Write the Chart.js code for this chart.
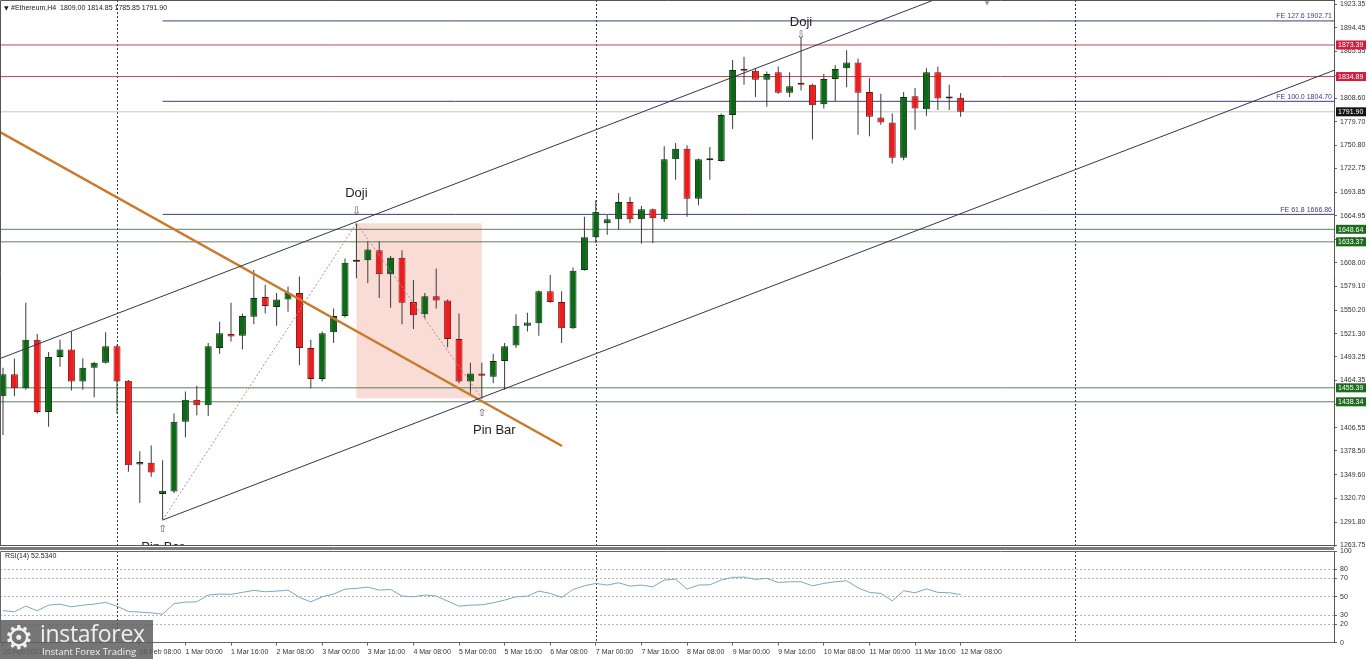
<!DOCTYPE html>
<html lang="en">
<head>
<meta charset="utf-8">
<title>#Ethereum,H4</title>
<script src="https://cdn.jsdelivr.net/npm/chart.js@4.4.1/dist/chart.umd.min.js"></script>
<style>
  html, body { margin: 0; padding: 0; background: #fff; overflow: hidden; }
  #wrap { position: relative; width: 1367px; height: 659px; }
  canvas { position: absolute; left: 0; }
  #priceChart { top: 0; }
  #rsiChart { top: 547px; }
  #logo { position: absolute; left: 0; top: 620px; width: 153px; height: 39px;
          background: rgba(96, 96, 96, 0.86); color: #f0f0f0; font-family: "Open Sans", sans-serif; }
  #logo .gear { position: absolute; left: 4px; top: 0; font: 33px "DejaVu Sans"; line-height: 36px; }
  #logo .brand { position: absolute; left: 40px; top: -1px; font-size: 23px; line-height: 28px; letter-spacing: -0.3px; }
  #logo .slogan { position: absolute; left: 42px; top: 26px; font-size: 9.5px; line-height: 12px; }
</style>
</head>
<body>
<div id="wrap">
  <canvas id="priceChart" width="1367" height="547"></canvas>
  <canvas id="rsiChart" width="1367" height="112"></canvas>
  <div id="logo"><span class="gear">⚙</span><span class="brand">instaforex</span><span class="slogan">Instant Forex Trading</span></div>
</div>
<script>
/* ================= DATA ================= */

// H4 candles, 26 Feb 08:00 .. 12 Mar 08:00
const opens  = [1445, 1472, 1455, 1514, 1426, 1493, 1502, 1463, 1480, 1486,
                1506, 1464, 1362, 1364, 1326, 1329, 1414, 1441, 1434, 1504,
                1521, 1519, 1542, 1566, 1554, 1563, 1571, 1504, 1466, 1523,
                1543, 1609, 1611, 1623, 1594, 1614, 1560, 1545, 1567, 1562,
                1515, 1463, 1473, 1469, 1488, 1507, 1531, 1534, 1573, 1560,
                1528, 1599, 1639, 1656, 1661, 1682, 1661, 1673, 1661, 1734,
                1747, 1686, 1733, 1732, 1788, 1843, 1842, 1831, 1840, 1815,
                1826, 1825, 1801, 1832, 1845, 1852, 1816, 1785, 1779, 1736,
                1811, 1795, 1840, 1808, 1809.00];
const highs  = [1480, 1491, 1559, 1521, 1499, 1514, 1524, 1491, 1487, 1523,
                1508, 1465, 1378, 1385, 1367, 1424, 1451, 1458, 1510, 1536,
                1559, 1546, 1599, 1581, 1571, 1579, 1591, 1514, 1524, 1552,
                1613, 1656, 1634, 1634, 1616, 1623, 1587, 1571, 1601, 1563,
                1546, 1486, 1486, 1497, 1510, 1545, 1547, 1574, 1593, 1573,
                1602, 1664, 1684, 1666, 1693, 1688, 1677, 1674, 1750, 1754,
                1751, 1735, 1749, 1790, 1855, 1859, 1845, 1841, 1847, 1840,
                1883, 1826, 1838, 1849, 1867, 1857, 1833, 1814, 1790, 1816,
                1821, 1845, 1847, 1825, 1814.85];
const lows   = [1398, 1445, 1453, 1424, 1408, 1481, 1452, 1453, 1444, 1485,
                1424, 1353, 1315, 1347, 1294, 1327, 1395, 1422, 1421, 1497,
                1512, 1502, 1533, 1546, 1531, 1548, 1483, 1455, 1463, 1510,
                1541, 1589, 1583, 1565, 1553, 1533, 1527, 1540, 1552, 1505,
                1461, 1447, 1442, 1461, 1453, 1504, 1524, 1519, 1559, 1510,
                1527, 1598, 1632, 1642, 1648, 1656, 1631, 1632, 1658, 1709,
                1664, 1678, 1709, 1731, 1771, 1825, 1810, 1798, 1814, 1810,
                1818, 1758, 1796, 1805, 1822, 1764, 1762, 1776, 1729, 1733,
                1770, 1787, 1794, 1794, 1785.85];
const closes = [1472, 1455, 1514, 1426, 1493, 1502, 1463, 1480, 1486, 1506,
                1463, 1361, 1365, 1352, 1330, 1414, 1441, 1434, 1506, 1522,
                1518, 1543, 1565, 1555, 1563, 1571, 1504, 1466, 1522, 1543,
                1608, 1611, 1624, 1594, 1614, 1559, 1544, 1567, 1562, 1515,
                1463, 1473, 1470, 1488, 1506, 1531, 1535, 1573, 1560, 1528,
                1598, 1639, 1670, 1661, 1682, 1661, 1673, 1662, 1734, 1747,
                1686, 1734, 1734, 1788, 1843, 1842, 1831, 1838, 1815, 1823,
                1825, 1800, 1832, 1844, 1852, 1815, 1786, 1779, 1736, 1810,
                1796, 1840, 1808, 1809, 1791.90];

const rsiValues = [35, 33.6, 39.8, 34.7, 40.9, 42, 39, 40.9, 42, 43.9,
                   39.8, 34, 33.3, 32.5, 31, 42.5, 44.2, 44.5, 51.9, 53,
                   52.6, 54.8, 57, 55.5, 56.2, 57.3, 49.3, 44.5, 50, 53,
                   58.4, 59.2, 60.6, 57.3, 58, 50.8, 50, 51.9, 50.8, 45.3,
                   39.8, 40.9, 41.3, 43.4, 46.4, 50, 50.8, 56.2, 53.7, 49.3,
                   58, 62, 64.6, 62.8, 65.3, 61.7, 62.8, 60.9, 68.3, 69.3,
                   58.4, 62.8, 63.1, 68.3, 71.2, 71.5, 69, 70.1, 65.7, 66.4,
                   66.4, 62, 64.6, 66.4, 67.5, 59.8, 54.8, 53.7, 45.6, 56.6,
                   54.4, 58.7, 54.8, 54.4, 52.534];

const priceTicks = [1923.35, 1894.45, 1865.55, 1836.65, 1808.60, 1779.70, 1750.80, 1722.75,
                    1693.85, 1664.95, 1636.05, 1608.00, 1579.10, 1550.20, 1521.30, 1493.25,
                    1464.35, 1435.45, 1406.55, 1378.50, 1349.60, 1320.70, 1291.80, 1263.75];
const rsiTicks = [0, 20, 30, 50, 70, 80, 100];
const rsiLevels = [20, 30, 50, 70, 80];

const xTickIndex = [0, 12, 16, 20, 24, 28, 32, 36, 40, 44, 48, 52, 56, 60, 64, 68, 72, 76, 80, 84];
const xTickText = ["26 Feb 2021", "28 Feb 08:00", "1 Mar 00:00", "1 Mar 16:00", "2 Mar 08:00",
                   "3 Mar 00:00", "3 Mar 16:00", "4 Mar 08:00", "5 Mar 00:00", "5 Mar 16:00",
                   "6 Mar 08:00", "7 Mar 00:00", "7 Mar 16:00", "8 Mar 08:00", "9 Mar 00:00",
                   "9 Mar 16:00", "10 Mar 08:00", "11 Mar 00:00", "11 Mar 16:00", "12 Mar 08:00"];
const weekStartIndex = [10, 52, 94];

const redLevels = [1873.39, 1834.89];
const greenLevels = [1648.64, 1633.37, 1455.39, 1438.34];
const lastPrice = 1791.90;

const fibRatios = ["127.6", "100.0", "61.8"];
const fibPrices = [1902.71, 1804.70, 1666.86];
const fibStartIndex = 14;

// [candle index, price]
const upperChannel = [[-0.26, 1491.1], [116.75, 2115.5]];
const lowerChannel = [[14, 1294.2], [116.75, 1842.5]];
const bearTrend = [[-0.26, 1767.3], [49.04, 1384.5]];
const zigzag = [[14, 1294.2], [31, 1656], [42, 1442.6]];
const boxIndexRange = [31, 42];
const boxPriceRange = [1442.6, 1656];

const noteText = ["Doji", "Doji", "Pin Bar", "Pin Bar"];
const noteIndex = [31, 70, 43.1, 14];
const notePrice = [1692.9, 1900.5, 1403.9, 1260.5];
const arrowGlyph = ["⇩", "⇩", "⇧", "⇧"];
const arrowIndex = [31, 70, 42, 14];
const arrowPrice = [1670.1, 1885.6, 1424.3, 1283.3];

/* ================= SCALES ================= */

const X_MIN = -0.263, X_MAX = 116.75;
const PRICE_MIN = 1262.54, PRICE_MAX = 1928.23;
const AXIS_FONT = { family: "Liberation Sans", size: 7 };

const GREEN = "#0b6a16";
const RED = "#ee1c1c";

const candleIdx = opens.map((_, i) => i);
const isUp = candleIdx.map(i => closes[i] >= opens[i]);

const toPoints = pts => pts.map(p => ({ x: p[0], y: p[1] }));
const levelLine = (price, from) => [{ x: from, y: price }, { x: X_MAX, y: price }];

function lineDataset(data, color, width, dash, order) {
  return {
    type: "line", data, borderColor: color, borderWidth: width, borderDash: dash,
    pointRadius: 0, fill: false, tension: 0, order, clip: 0
  };
}

function drawSeparators(chart) {
  const { ctx, chartArea: a, scales: { x } } = chart;
  ctx.save();
  ctx.strokeStyle = "#333";
  ctx.lineWidth = 1;
  ctx.setLineDash([2, 2]);
  weekStartIndex.forEach(i => {
    const px = Math.round(x.getPixelForValue(i)) + 0.5;
    ctx.beginPath();
    ctx.moveTo(px, a.top);
    ctx.lineTo(px, a.bottom);
    ctx.stroke();
  });
  ctx.restore();
}

/* ================= PRICE PANEL ================= */

const priceDatasets = [];
redLevels.forEach(p => priceDatasets.push(lineDataset(levelLine(p, X_MIN), "#b94a55", 1, [], 10)));
greenLevels.forEach(p => priceDatasets.push(lineDataset(levelLine(p, X_MIN), "#5b805b", 1, [], 10)));
priceDatasets.push(lineDataset(levelLine(lastPrice, X_MIN), "#c4c4c4", 1, [], 11));
fibPrices.forEach(p => priceDatasets.push(lineDataset(levelLine(p, fibStartIndex), "#3e3e78", 1, [], 10)));

priceDatasets.push({
  type: "bar",
  data: candleIdx.map(i => ({ x: i, y: [lows[i], highs[i]] })),
  backgroundColor: "#3a3a3a",
  barThickness: 1,
  inflateAmount: 0,
  grouped: false,
  order: 5
});
priceDatasets.push({
  type: "bar",
  data: candleIdx.map(i => ({ x: i, y: [opens[i], closes[i]] })),
  backgroundColor: candleIdx.map(i => isUp[i] ? GREEN : RED),
  borderColor: candleIdx.map(i => isUp[i] ? "#0f2e0f" : "#7a1010"),
  borderWidth: 1,
  borderSkipped: false,
  barThickness: 7,
  minBarLength: 2,
  inflateAmount: 0,
  grouped: false,
  order: 4
});

priceDatasets.push(lineDataset(toPoints(zigzag), "#b48c8c", 1, [2, 2], 3));
priceDatasets.push(lineDataset(toPoints(upperChannel), "#34344e", 1, [], 0));
priceDatasets.push(lineDataset(toPoints(lowerChannel), "#34344e", 1, [], 0));
priceDatasets.push(lineDataset(toPoints(bearTrend), "#c97a2c", 2.5, [], 0));

const priceNotes = {
  id: "priceNotes",
  beforeDatasetsDraw(chart) {
    const { ctx, scales: { x, y } } = chart;
    const x1 = x.getPixelForValue(boxIndexRange[0]);
    const x2 = x.getPixelForValue(boxIndexRange[1]);
    const y1 = y.getPixelForValue(boxPriceRange[1]);
    const y2 = y.getPixelForValue(boxPriceRange[0]);
    ctx.save();
    ctx.fillStyle = "#fadcd7";
    ctx.fillRect(x1, y1, x2 - x1, y2 - y1);
    ctx.restore();
    drawSeparators(chart);
  },
  afterDatasetsDraw(chart) {
    const { ctx, chartArea: a, scales: { x, y } } = chart;
    ctx.save();
    ctx.beginPath();
    ctx.rect(a.left, a.top, a.right - a.left, a.bottom - a.top);
    ctx.clip();

    ctx.textAlign = "center";
    ctx.textBaseline = "middle";
    ctx.fillStyle = "#1e1e1e";
    ctx.font = '13px "Liberation Sans"';
    noteText.forEach((t, k) => {
      ctx.fillText(t, x.getPixelForValue(noteIndex[k]), y.getPixelForValue(notePrice[k]));
    });

    ctx.fillStyle = "#555";
    ctx.font = '10px "DejaVu Sans"';
    arrowGlyph.forEach((g, k) => {
      ctx.fillText(g, x.getPixelForValue(arrowIndex[k]), y.getPixelForValue(arrowPrice[k]));
    });

    // FE labels at the right end of each line
    ctx.textAlign = "right";
    ctx.textBaseline = "bottom";
    ctx.fillStyle = "#3a3a86";
    ctx.font = '7px "Liberation Sans"';
    fibPrices.forEach((p, k) => {
      ctx.fillText("FE " + fibRatios[k] + " " + p.toFixed(2), a.right - 2, y.getPixelForValue(p) - 1);
    });
    ctx.restore();
  },
  afterDraw(chart) {
    const { ctx, chartArea: a, scales: { y } } = chart;
    ctx.save();

    // frame
    ctx.strokeStyle = "#555";
    ctx.lineWidth = 1;
    ctx.beginPath();
    ctx.moveTo(a.left + 0.5, a.bottom);
    ctx.lineTo(a.left + 0.5, a.top + 0.5);
    ctx.lineTo(a.right, a.top + 0.5);
    ctx.moveTo(a.left, a.bottom - 0.5);
    ctx.lineTo(a.right, a.bottom - 0.5);
    ctx.stroke();

    // price tags on the axis
    const tags = redLevels.map(p => [p, "#d01e3c"])
      .concat([[lastPrice, "#141414"]])
      .concat(greenLevels.map(p => [p, "#1d6b1d"]));
    ctx.font = '7px "Liberation Sans"';
    ctx.textAlign = "left";
    ctx.textBaseline = "middle";
    tags.forEach(([p, c]) => {
      const py = y.getPixelForValue(p);
      ctx.fillStyle = c;
      ctx.fillRect(a.right + 2, py - 4.5, 30, 9);
      ctx.fillStyle = "#fff";
      ctx.fillText(p.toFixed(2), a.right + 4, py + 0.5);
    });

    // header
    const last = opens.length - 1;
    ctx.fillStyle = "#222";
    ctx.font = '6px "DejaVu Sans"';
    ctx.fillText("▼", 4, 8);
    ctx.font = '7px "Liberation Sans"';
    ctx.fillText("#Ethereum,H4  " + [opens[last], highs[last], lows[last], closes[last]]
      .map(v => v.toFixed(2)).join(" "), 11, 8);

    // chart shift marker
    ctx.fillStyle = "#999";
    ctx.font = '6px "DejaVu Sans"';
    ctx.textAlign = "center";
    ctx.fillText("▼", 987, 3.5);
    ctx.restore();
  }
};

new Chart(document.getElementById("priceChart"), {
  type: "bar",
  data: { datasets: priceDatasets },
  options: {
    responsive: false,
    animation: false,
    devicePixelRatio: 1,
    layout: { padding: { left: 0, right: 0, top: 0, bottom: 1 } },
    plugins: { legend: { display: false }, tooltip: { enabled: false } },
    scales: {
      x: { type: "linear", min: X_MIN, max: X_MAX, offset: false, display: false },
      y: {
        position: "right",
        min: PRICE_MIN,
        max: PRICE_MAX,
        beginAtZero: false,
        afterBuildTicks: s => { s.ticks = priceTicks.map(v => ({ value: v })); },
        afterFit: s => { s.width = 33; s.paddingTop = 0; s.paddingBottom = 0; },
        ticks: { callback: v => v.toFixed(2), color: "#333", font: AXIS_FONT, padding: 3, autoSkip: false },
        grid: { display: true, drawOnChartArea: false, drawTicks: true, tickLength: 3, tickColor: "#666" },
        border: { display: true, color: "#555" }
      }
    }
  },
  plugins: [priceNotes]
});

/* ================= RSI PANEL ================= */

const rsiDecor = {
  id: "rsiDecor",
  beforeDraw(chart) {
    const { ctx, chartArea: a } = chart;
    ctx.save();
    ctx.fillStyle = "#7c7c7c";
    ctx.fillRect(0, 0, a.right, 3);
    ctx.restore();
  },
  beforeDatasetsDraw(chart) {
    drawSeparators(chart);
  },
  afterDraw(chart) {
    const { ctx, chartArea: a } = chart;
    ctx.save();
    ctx.strokeStyle = "#666";
    ctx.lineWidth = 1;
    ctx.beginPath();
    ctx.moveTo(a.left + 0.5, a.bottom);
    ctx.lineTo(a.left + 0.5, a.top + 0.5);
    ctx.lineTo(a.right, a.top + 0.5);
    ctx.stroke();
    ctx.fillStyle = "#222";
    ctx.font = '7px "Liberation Sans"';
    ctx.textBaseline = "middle";
    ctx.fillText("RSI(14) " + rsiValues[rsiValues.length - 1].toFixed(4), 5, a.top + 5);
    ctx.restore();
  }
};

new Chart(document.getElementById("rsiChart"), {
  type: "line",
  data: {
    datasets: [{
      data: rsiValues.map((v, i) => ({ x: i, y: v })),
      borderColor: "#7ba7c2",
      borderWidth: 1,
      pointRadius: 0,
      tension: 0,
      fill: false
    }]
  },
  options: {
    responsive: false,
    animation: false,
    devicePixelRatio: 1,
    layout: { padding: { left: 0, right: 0, top: 4, bottom: 0 } },
    plugins: { legend: { display: false }, tooltip: { enabled: false } },
    scales: {
      x: {
        type: "linear",
        min: X_MIN,
        max: X_MAX,
        offset: false,
        afterBuildTicks: s => { s.ticks = xTickIndex.map(v => ({ value: v })); },
        afterFit: s => { s.height = 16.4; s.paddingLeft = 0; s.paddingRight = 0; },
        ticks: {
          callback: (v, i) => xTickText[i],
          align: "start", maxRotation: 0, autoSkip: false,
          color: "#333", font: AXIS_FONT, padding: 2
        },
        grid: { display: true, drawOnChartArea: false, drawTicks: true, tickLength: 3, tickColor: "#666" },
        border: { display: true, color: "#666" }
      },
      y: {
        position: "right",
        min: 0,
        max: 100,
        afterBuildTicks: s => { s.ticks = rsiTicks.map(v => ({ value: v })); },
        afterFit: s => { s.width = 33; s.paddingTop = 0; s.paddingBottom = 0; },
        ticks: { callback: v => String(v), color: "#333", font: AXIS_FONT, padding: 3, autoSkip: false },
        grid: {
          color: c => (c.tick && rsiLevels.includes(c.tick.value)) ? "#b4b4b4" : "rgba(0,0,0,0)",
          drawTicks: true, tickLength: 3, tickColor: "#666"
        },
        border: { display: true, color: "#555", dash: [2, 2] }
      }
    }
  },
  plugins: [rsiDecor]
});
</script>
</body>
</html>
